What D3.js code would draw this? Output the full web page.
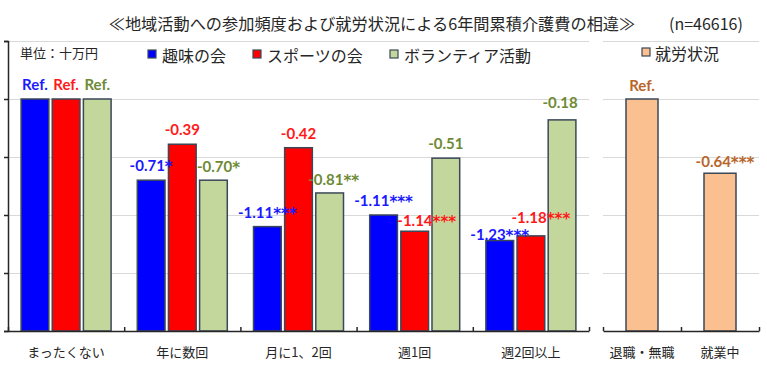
<!DOCTYPE html>
<html>
<head>
<meta charset="utf-8">
<script src="https://cdn.jsdelivr.net/npm/d3@7"></script>
<style>
  body { margin: 0; background: #fff; }
  svg { display: block; }
  text { font-family: "Noto Sans CJK JP", "Noto Sans", sans-serif; }
  .num { font-family: Lato, "Open Sans", sans-serif; font-weight: bold; }
  .star { font-family: "DejaVu Sans", sans-serif; font-weight: bold; }
</style>
</head>
<body>
<div id="chart"></div>
<script>
// data
const categories = ["まったくない", "年に数回", "月に1、2回", "週1回", "週2回以上"];
const seriesNames = ["趣味の会", "スポーツの会", "ボランティア活動"];
const hobbyValues = [0, -0.70, -1.10, -1.00, -1.22];
const sportsValues = [0, -0.39, -0.42, -1.14, -1.18];
const volunteerValues = [0, -0.70, -0.81, -0.51, -0.18];
const hobbyLabels = ["Ref.", "-0.71*", "-1.11***", "-1.11***", "-1.23***"];
const sportsLabels = ["Ref.", "-0.39", "-0.42", "-1.14***", "-1.18***"];
const volunteerLabels = ["Ref.", "-0.70*", "-0.81**", "-0.51", "-0.18"];

const workName = "就労状況";
const workCategories = ["退職・無職", "就業中"];
const workValues = [0, -0.64];
const workLabels = ["Ref.", "-0.64***"];

const yTicks = [-2, -1.5, -1, -0.5, 0, 0.5];

const width = 767, height = 367;
const fills = ["#0000ff", "#ff0000", "#c3d69b"];
const textColors = ["#1a1aff", "#ff1a1a", "#6e8a36"];
const workFill = "#fac090", workText = "#b8662a";
const barStroke = "#3b4858";

// label nudges (x, y) where Excel moved them
const nudge = {
  "2-1": [5, 1],
  "2-2": [4, 1],
  "1-3": [12, 4], "0-4": [0, 8], "1-4": [10, -4], "2-4": [-2, -3]
};

const svg = d3.select("#chart").append("svg")
    .attr("width", width)
    .attr("height", height);

const y = d3.scaleLinear().domain([-2, 0.5]).range([331, 41]);

const x = d3.scaleBand().domain(categories).range([8, 589]);
const xSub = d3.scaleBand().domain(seriesNames)
    .range([x.bandwidth() / 2 - 45, x.bandwidth() / 2 + 45])
    .paddingInner(0.11);

const xw = d3.scaleBand().domain(workCategories).range([603, 759]);
const workBarW = 32;

// number + stars, stars in a wider face like the original
function writeLabel(sel) {
  sel.each(function(d) {
    const t = d3.select(this);
    const m = d.lab.match(/^([^*]*)(\**)$/);
    t.append("tspan").text(m[1]);
    if (m[2]) t.append("tspan").attr("class", "star").attr("dy", 1).text(m[2]);
  });
}

// title
svg.append("text")
    .attr("x", 372).attr("y", 30)
    .attr("text-anchor", "middle")
    .attr("font-size", 16.2)
    .attr("fill", "#262626")
    .text("≪地域活動への参加頻度および就労状況による6年間累積介護費の相違≫");
svg.append("text")
    .attr("x", 669).attr("y", 30)
    .attr("font-size", 16)
    .attr("fill", "#262626")
    .text("(n=46616)");

// gridlines
const grid = svg.append("g").attr("stroke", "#d9d9d9").attr("stroke-width", 1);
grid.selectAll("line.l").data(yTicks.slice(1)).join("line")
    .attr("class", "l")
    .attr("x1", 8).attr("x2", 589)
    .attr("y1", d => Math.round(y(d)) + 0.5).attr("y2", d => Math.round(y(d)) + 0.5);
grid.selectAll("line.r").data(yTicks.slice(1)).join("line")
    .attr("class", "r")
    .attr("x1", 603).attr("x2", 759)
    .attr("y1", d => Math.round(y(d)) + 0.5).attr("y2", d => Math.round(y(d)) + 0.5);

// bars - left panel
const seriesVals = [hobbyValues, sportsValues, volunteerValues];
const seriesLabs = [hobbyLabels, sportsLabels, volunteerLabels];
const barData = [];
seriesNames.forEach((s, si) => {
  categories.forEach((c, ci) => {
    barData.push({ s: s, si: si, c: c, ci: ci, v: seriesVals[si][ci], lab: seriesLabs[si][ci] });
  });
});

svg.append("g").selectAll("rect").data(barData).join("rect")
    .attr("x", d => x(d.c) + xSub(d.s))
    .attr("y", d => y(d.v))
    .attr("width", xSub.bandwidth())
    .attr("height", d => y(-2) - y(d.v))
    .attr("fill", d => fills[d.si])
    .attr("stroke", barStroke)
    .attr("stroke-width", 1.5);

svg.append("g").selectAll("text").data(barData).join("text")
    .attr("class", "num")
    .attr("x", d => x(d.c) + xSub(d.s) + xSub.bandwidth() / 2 + (nudge[d.si + "-" + d.ci] || [0, 0])[0])
    .attr("y", d => y(d.v) - 9 + (nudge[d.si + "-" + d.ci] || [0, 0])[1])
    .attr("text-anchor", "middle")
    .attr("font-size", 15)
    .attr("fill", d => textColors[d.si])
    .call(writeLabel);

// bars - right panel
const workData = workCategories.map((c, i) => ({ c: c, i: i, v: workValues[i], lab: workLabels[i] }));

svg.append("g").selectAll("rect").data(workData).join("rect")
    .attr("x", d => xw(d.c) + xw.bandwidth() / 2 - workBarW / 2)
    .attr("y", d => y(d.v))
    .attr("width", workBarW)
    .attr("height", d => y(-2) - y(d.v))
    .attr("fill", workFill)
    .attr("stroke", barStroke)
    .attr("stroke-width", 1.5);

svg.append("g").selectAll("text").data(workData).join("text")
    .attr("class", "num")
    .attr("x", d => xw(d.c) + xw.bandwidth() / 2 + (d.i ? 5 : 0))
    .attr("y", d => y(d.v) - (d.i ? 6 : 8))
    .attr("text-anchor", "middle")
    .attr("font-size", 15)
    .attr("fill", workText)
    .call(writeLabel);

// axes
svg.append("g")
    .attr("transform", "translate(8,0)")
    .call(d3.axisLeft(y).tickValues(yTicks).tickSize(4).tickFormat(""));

const bx = d3.scaleLinear().domain([0, categories.length]).range([8, 589]);
svg.append("g")
    .attr("transform", `translate(0,${y(-2)})`)
    .call(d3.axisBottom(bx).tickValues(d3.range(categories.length + 1)).tickSizeInner(-4).tickSizeOuter(0).tickFormat(""));

const bxw = d3.scaleLinear().domain([0, workCategories.length]).range([603, 759]);
svg.append("g")
    .attr("transform", `translate(0,${y(-2)})`)
    .call(d3.axisBottom(bxw).tickValues(d3.range(workCategories.length + 1)).tickSizeInner(-4).tickSizeOuter(0).tickFormat(""));

svg.selectAll(".domain, .tick line").attr("stroke", "#262626").attr("stroke-width", 1.5);

// category labels
svg.append("g").selectAll("text").data(categories).join("text")
    .attr("x", d => x(d) + x.bandwidth() / 2)
    .attr("y", 357)
    .attr("text-anchor", "middle")
    .attr("font-size", 13)
    .attr("fill", "#262626")
    .text(d => d);
svg.append("g").selectAll("text").data(workCategories).join("text")
    .attr("x", d => xw(d) + xw.bandwidth() / 2)
    .attr("y", 357)
    .attr("text-anchor", "middle")
    .attr("font-size", 13)
    .attr("fill", "#262626")
    .text(d => d);

// unit + legend
svg.append("text")
    .attr("x", 20).attr("y", 58)
    .attr("font-size", 13)
    .attr("fill", "#262626")
    .text("単位：十万円");

const legendX = [148, 253, 390];
const lg = svg.append("g").selectAll("g").data(seriesNames).join("g")
    .attr("transform", (d, i) => `translate(${legendX[i]},0)`);
lg.append("rect")
    .attr("x", 0).attr("y", 50).attr("width", 8).attr("height", 8)
    .attr("fill", (d, i) => fills[i])
    .attr("stroke", barStroke).attr("stroke-width", 1.2);
lg.append("text")
    .attr("x", 14).attr("y", 62)
    .attr("font-size", 16)
    .attr("fill", "#262626")
    .text(d => d);

const wl = svg.append("g").attr("transform", "translate(642,0)");
wl.append("rect")
    .attr("x", 0).attr("y", 48).attr("width", 8).attr("height", 8)
    .attr("fill", workFill)
    .attr("stroke", barStroke).attr("stroke-width", 1.2);
wl.append("text")
    .attr("x", 13).attr("y", 60)
    .attr("font-size", 16)
    .attr("fill", "#262626")
    .text(workName);
</script>
</body>
</html>
